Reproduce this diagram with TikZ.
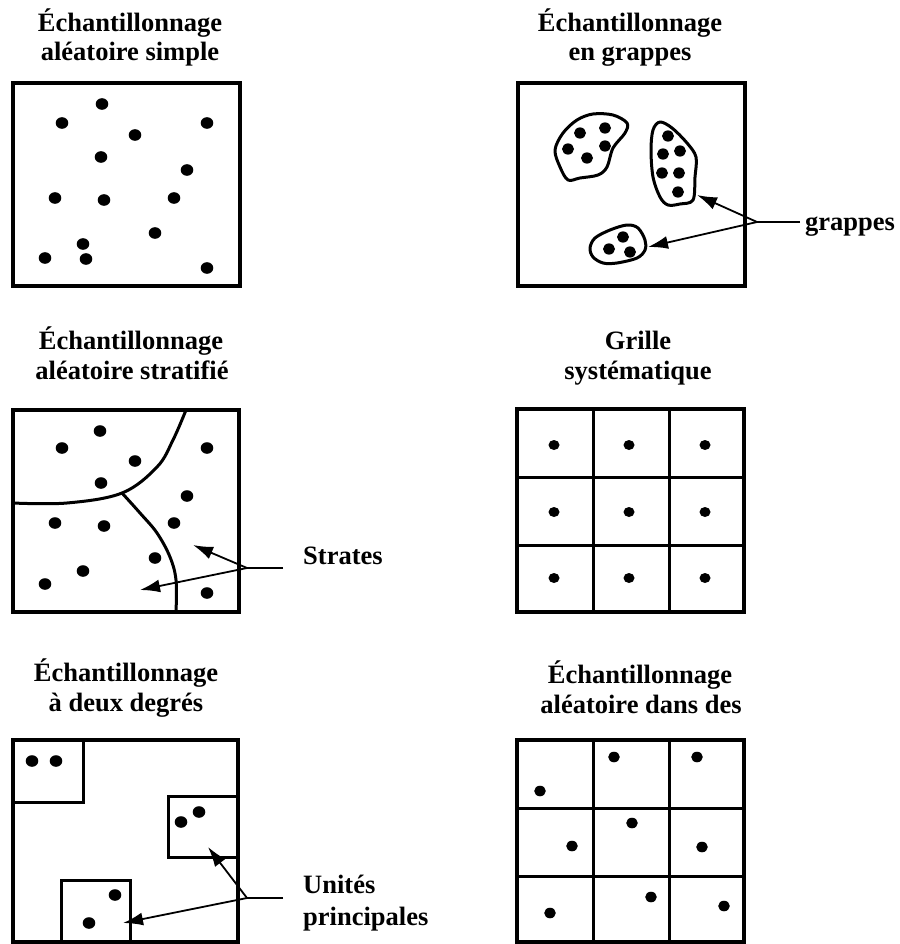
\documentclass[tikz,border=0pt]{standalone}
\usepackage{fontspec}
\setmainfont{Liberation Serif}
\usetikzlibrary{arrows.meta}
\begin{document}
\begin{tikzpicture}[x=1pt,y=-1pt,
  frame/.style={line width=3.4pt},
  gridline/.style={line width=3pt},
  blob/.style={line width=3pt, line join=round},
  arrowline/.style={line width=1.8pt, -{Latex[length=20pt,width=13pt]}},
  plainline/.style={line width=1.8pt},
  dotstyle/.style={fill=black},
  lbl/.style={font=\bfseries\fontsize{26.5}{30}\selectfont, inner sep=0pt},
  ttl/.style={lbl, anchor=base}]
\useasboundingbox (0,0) rectangle (899,944);

% ---------- Titles ----------
\node[ttl] (t1a) at (130,32) {Échantillonnage};
\node[ttl] (t1b) at (130,61) {aléatoire simple};
\node[ttl] (t2a) at (630,32) {Échantillonnage};
\node[ttl] (t2b) at (630,61) {en grappes};
\node[ttl] (t3a) at (131,349) {Échantillonnage};
\node[ttl] (t3b) at (132,379) {aléatoire stratifié};
\node[ttl] (t4a) at (638,349) {Grille};
\node[ttl] (t4b) at (638,379) {systématique};
\node[ttl] (t5a) at (126,681) {Échantillonnage};
\node[ttl] (t5b) at (126,711) {à deux degrés};
\node[ttl] (t6a) at (640,683) {Échantillonnage};
\node[ttl] (t6b) at (641,713) {aléatoire dans des};

% ---------- Panel 1: simple random ----------
\draw[frame] (13,83) rectangle (240,286);
\foreach \x/\y in {102/104,62/123,207/123,135/135,101/157,187/170,55/198,104/200,174/198,155/233,83/244,45/258,86/259,207/268}
  \fill[dotstyle] (\x,\y) ellipse (6.3 and 5.8);

% ---------- Panel 2: clusters ----------
\draw[frame] (518,83) rectangle (745,286);
\draw[blob] plot[smooth cycle, tension=0.55] coordinates {(555,150)(563,133)(577,120)(593,114)(613,115)(627,123)(625,133)(613,148)(607,167)(598,175)(580,178)(568,180)(560,167)};
\draw[blob] plot[smooth cycle, tension=0.55] coordinates {(660,122)(672,128)(687,143)(696,157)(695,177)(693,200)(680,204)(668,205)(660,197)(653,177)(651,150)(653,130)};
\draw[blob] plot[smooth cycle, tension=0.55] coordinates {(590,248)(595,238)(610,230)(627,225)(638,228)(645,240)(645,250)(637,258)(617,263)(603,263)(593,257)};
\foreach \x/\y in {580/133,605/128,568/149,605/146,587/158,668/136,663/154,680/151,662/173,679/173,678/192,623/237,609/249,630/252}
  \fill[dotstyle] (\x,\y) ellipse (6 and 5.6);
\node[lbl, anchor=base west] (grap) at (805,230) {grappes};
\coordinate (e2) at (800,222);
\coordinate (j2) at (757,222);
\coordinate (c2) at (697,195);
\coordinate (c3) at (648,247);
\draw[plainline] (e2) -- (j2);
\draw[arrowline] (j2) -- (c2);
\draw[arrowline] (j2) -- (c3);

% ---------- Panel 3: stratified ----------
\draw[frame] (13,410) rectangle (239,612);
\draw[blob] plot[smooth, tension=0.6] coordinates {(13,503)(67,503)(122,493)(157,467)(173,440)(186,410)};
\draw[blob] plot[smooth, tension=0.6] coordinates {(122,493)(140,513)(157,533)(170,557)(176,580)(176,612)};
\foreach \x/\y in {100/431,62/448,207/448,135/461,101/483,187/496,55/523,104/526,174/523,155/558,83/571,45/584,207/593}
  \fill[dotstyle] (\x,\y) ellipse (6.3 and 5.8);
\node[lbl, anchor=base west] (strates) at (303,564) {Strates};
\coordinate (e3) at (283,568);
\coordinate (j3) at (247,568);
\coordinate (s1) at (193,545);
\coordinate (s2) at (140,590);
\draw[plainline] (e3) -- (j3);
\draw[arrowline] (j3) -- (s1);
\draw[arrowline] (j3) -- (s2);

% ---------- Panel 4: systematic grid ----------
\draw[gridline] (593,409) -- (593,612) (669,409) -- (669,612)
                (517,477) -- (744,477) (517,545) -- (744,545);
\draw[frame] (517,409) rectangle (744,612);
\foreach \x in {554,629,705}
  \foreach \y in {445,512,578}
    \fill[dotstyle] (\x,\y) ellipse (5.5 and 5);

% ---------- Panel 5: two-stage ----------
\draw[gridline] (13,802) -- (83,802) -- (83,740);
\draw[gridline] (238,796) -- (168,796) -- (168,857) -- (238,857);
\draw[gridline] (61,942) -- (61,880) -- (130,880) -- (130,942);
\draw[frame] (13,740) rectangle (238,942);
\foreach \x/\y in {32/761,56/761,181/822,199/812,115/895,89/923}
  \fill[dotstyle] (\x,\y) ellipse (6.3 and 5.8);
\node[lbl, anchor=base west] (unites) at (303,893) {Unités};
\node[lbl, anchor=base west] (princ) at (303,925) {principales};
\coordinate (e5) at (283,898);
\coordinate (j5) at (247,898);
\coordinate (u1) at (208,847);
\coordinate (u2) at (123,923);
\draw[plainline] (e5) -- (j5);
\draw[arrowline] (j5) -- (u1);
\draw[arrowline] (j5) -- (u2);

% ---------- Panel 6: random within grid ----------
\draw[gridline] (593,740) -- (593,942) (669,740) -- (669,942)
                (517,808) -- (744,808) (517,876) -- (744,876);
\draw[frame] (517,740) rectangle (744,942);
\foreach \x/\y in {540/791,614/757,697/757,572/846,632/823,702/847,550/913,651/897,724/906}
  \fill[dotstyle] (\x,\y) ellipse (5.8 and 5.3);
\end{tikzpicture}
\end{document}
